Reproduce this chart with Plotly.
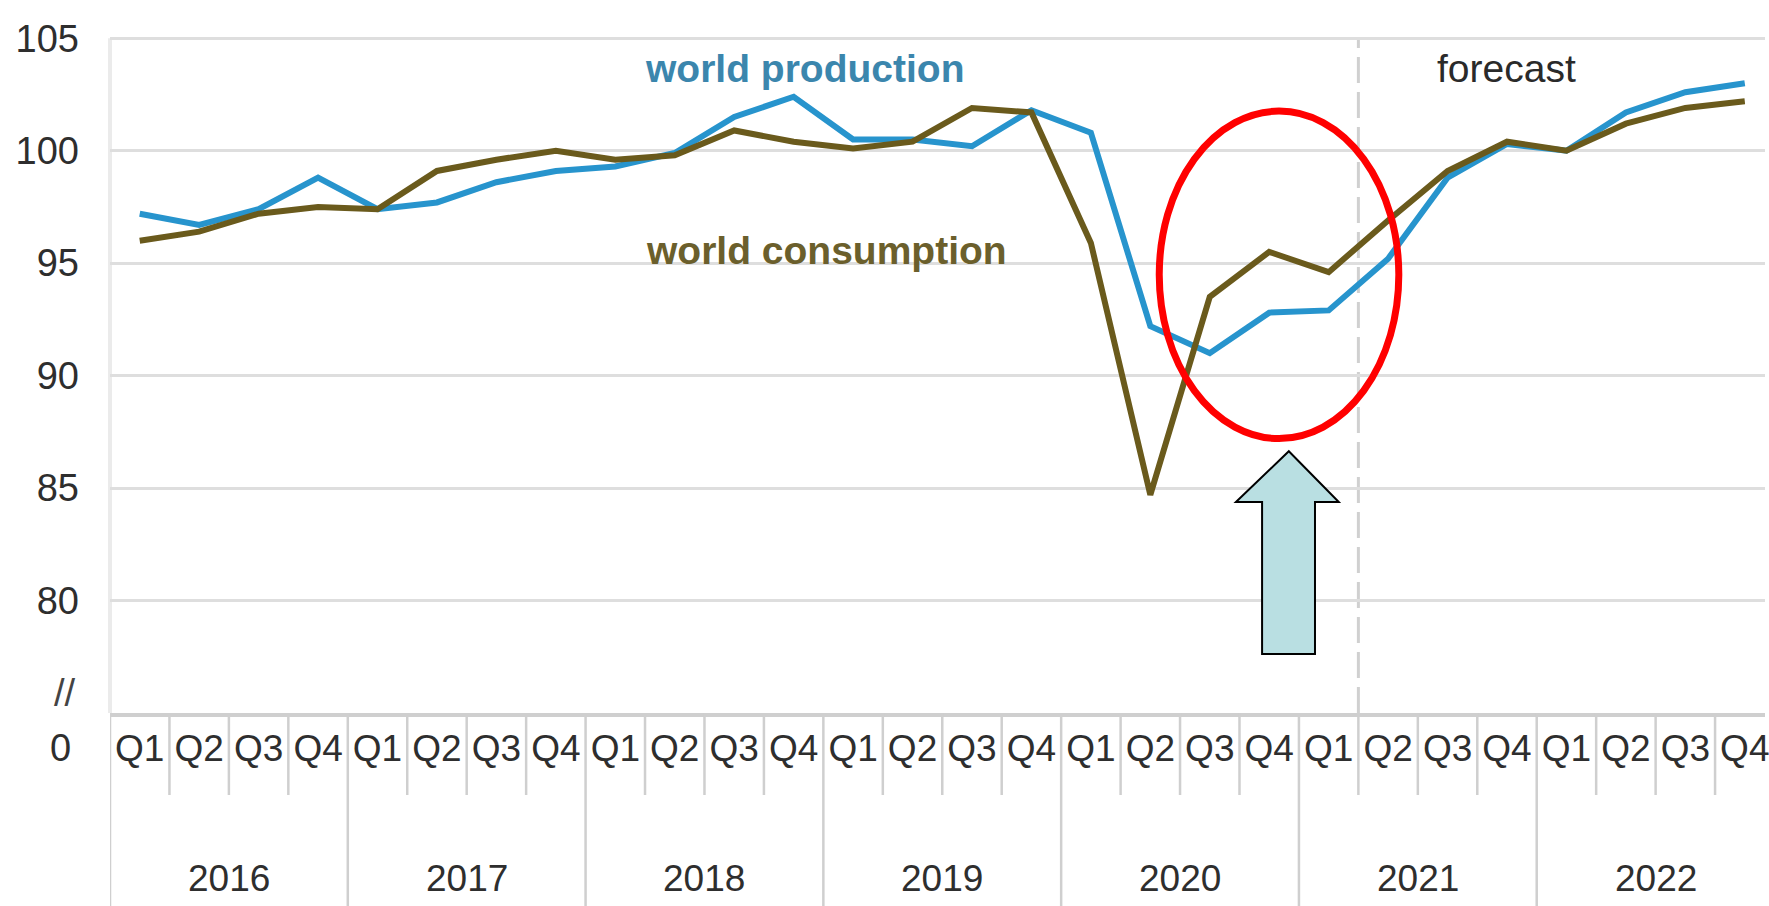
import plotly.graph_objects as go

# ---------------- data ----------------
years = ["2016", "2017", "2018", "2019", "2020", "2021", "2022"]
quarters = ["Q1", "Q2", "Q3", "Q4"]
quarter_labels = [q for y in years for q in quarters]

world_production = [97.2, 96.7, 97.4, 98.8, 97.4, 97.7, 98.6, 99.1, 99.3, 99.9,
                    101.5, 102.4, 100.5, 100.5, 100.2, 101.8, 100.8, 92.2, 91.0, 92.8,
                    92.9, 95.2, 98.8, 100.3, 100.0, 101.7, 102.6, 103.0]
world_consumption = [96.0, 96.4, 97.2, 97.5, 97.4, 99.1, 99.6, 100.0, 99.6, 99.8,
                     100.9, 100.4, 100.1, 100.4, 101.9, 101.7, 95.9, 84.7, 93.5, 95.5,
                     94.6, 96.9, 99.1, 100.4, 100.0, 101.2, 101.9, 102.2]

y_ticks = [80, 85, 90, 95, 100, 105]
forecast_start = 21  # index of first forecast quarter (2021 Q2)

# ---------------- styling ----------------
W, H = 1769, 906
ML, MR, MT, MB = 110, 0, 27, 193
FONT = "Liberation Sans, Arial, sans-serif"
PROD_COLOR = "#2794cd"
CONS_COLOR = "#6a5a1c"
TXT = "#2e2e2e"

x = list(range(len(quarter_labels)))
n = len(x)
plot_h = H - MT - MB

def py(px):
    """pixel y (from top) -> paper y"""
    return (H - MB - px) / plot_h

fig = go.Figure()
fig.add_trace(go.Scatter(x=x, y=world_production, mode="lines",
                         line=dict(color=PROD_COLOR, width=6), name="world production"))
fig.add_trace(go.Scatter(x=x, y=world_consumption, mode="lines",
                         line=dict(color=CONS_COLOR, width=6), name="world consumption"))

shapes = []
# y axis line
shapes.append(dict(type="line", xref="paper", yref="y", x0=0, x1=0, y0=75, y1=105,
                   line=dict(color="#ebebeb", width=4), layer="below"))
# forecast dashed line
shapes.append(dict(type="line", xref="x", yref="y", x0=forecast_start - 0.5, x1=forecast_start - 0.5,
                   y0=75, y1=105, line=dict(color="#d0d0d0", width=3, dash="26px,9px"), layer="below"))
# quarter separators below axis
for k in range(n):
    is_year = (k % 4 == 0)
    shapes.append(dict(type="line", xref="x", yref="paper", x0=k - 0.5, x1=k - 0.5,
                       y0=0, y1=py(906) if is_year else py(795),
                       line=dict(color="#cfcfcf", width=2.5)))
# highlight ellipse
shapes.append(dict(type="circle", xref="x", yref="y", x0=17.15, x1=21.18, y0=87.2, y1=101.76,
                   line=dict(color="#ff0000", width=7)))
# up arrow
ax_l, ax_r, sh_l, sh_r, tip_x = 18.44, 20.17, 18.88, 19.77, 19.33
tip_y, head_y, bot_y = 86.64, 84.38, 77.62
arrow_path = (f"M {tip_x} {tip_y} L {ax_r} {head_y} L {sh_r} {head_y} L {sh_r} {bot_y} "
              f"L {sh_l} {bot_y} L {sh_l} {head_y} L {ax_l} {head_y} Z")
shapes.append(dict(type="path", xref="x", yref="y", path=arrow_path,
                   fillcolor="#b9dfe2", line=dict(color="#000000", width=2)))

annotations = []
for i, yr in enumerate(years):
    annotations.append(dict(text=yr, xref="x", yref="paper", x=4 * i + 1.5, y=py(878),
                            showarrow=False, yanchor="middle", xanchor="center",
                            font=dict(family=FONT, size=37, color=TXT)))
annotations.append(dict(text="world production", xref="x", yref="y", x=11.18, y=103.67,
                        showarrow=False, font=dict(family=FONT, size=39, color="#3b86ad", weight="bold")))
annotations.append(dict(text="world consumption", xref="x", yref="y", x=11.55, y=95.58,
                        showarrow=False, font=dict(family=FONT, size=39, color="#6b5f2c", weight="bold")))
annotations.append(dict(text="forecast", xref="x", yref="y", x=22.99, y=103.67,
                        showarrow=False, font=dict(family=FONT, size=39, color="#2a2a2a")))
annotations.append(dict(text="0", xref="paper", yref="paper", x=-50 / (W - ML), y=py(748),
                        xanchor="center", yanchor="middle", showarrow=False,
                        font=dict(family=FONT, size=38, color=TXT)))
annotations.append(dict(text="//", xref="paper", yref="paper", x=-45 / (W - ML), y=py(693),
                        xanchor="center", yanchor="middle", showarrow=False,
                        font=dict(family=FONT, size=38, color="#444444")))

fig.update_layout(
    width=W, height=H,
    margin=dict(l=ML, r=MR, t=MT, b=MB, pad=0),
    paper_bgcolor="white", plot_bgcolor="white",
    showlegend=False,
    shapes=shapes, annotations=annotations,
    xaxis=dict(range=[-0.5, 27.34], tickmode="array", tickvals=x, ticktext=quarter_labels,
               ticks="", showgrid=False, zeroline=False, showline=True,
               linecolor="#cfcfcf", linewidth=4, ticklabelstandoff=0,
               ticklabeloverflow="allow",
               tickfont=dict(family=FONT, size=37, color=TXT), fixedrange=True),
    yaxis=dict(range=[75, 105.5], tickmode="array", tickvals=y_ticks,
               ticktext=[str(v) for v in y_ticks], ticks="", showgrid=True,
               gridcolor="#dedede", gridwidth=3, zeroline=False, showline=False,
               ticklabelstandoff=30,
               tickfont=dict(family=FONT, size=38, color=TXT), fixedrange=True),
)

fig.write_html("out.html")
